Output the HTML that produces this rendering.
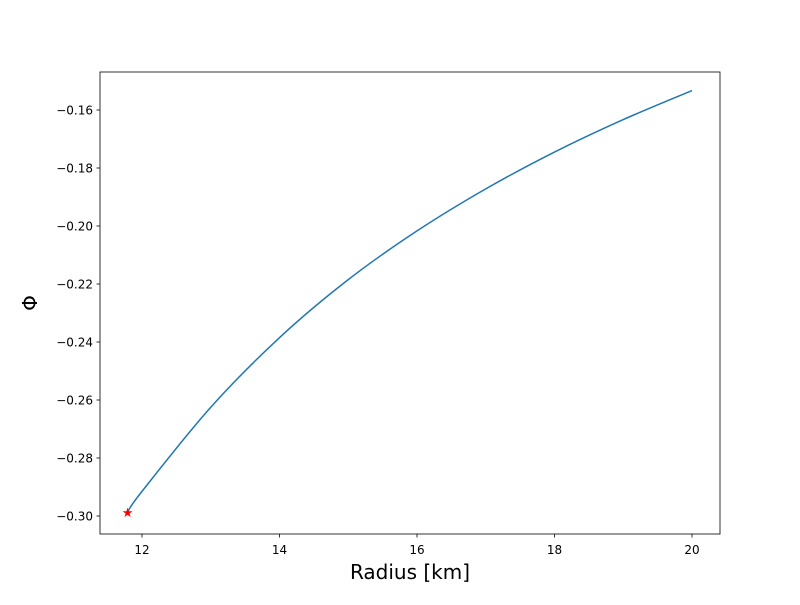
<!DOCTYPE html>
<html><head><meta charset="utf-8"><style>
body{margin:0;background:#fff}
svg text{font-family:"DejaVu Sans","Liberation Sans",sans-serif}
</style></head><body>
<svg id="chart" width="800" height="600" xmlns="http://www.w3.org/2000/svg">
<rect width="800" height="600" fill="#fff"/>
<g id="ticks"></g>
<path id="curve" fill="none" stroke="#1f77b4" stroke-width="1.5"/>
<g id="marker"></g>
<rect x="100" y="72" width="620" height="462" fill="none" stroke="#000" stroke-width="0.8"/>
<text x="410" y="579" font-size="20" text-anchor="middle">Radius [km]</text>
<text x="37" y="303" font-size="20" text-anchor="middle" transform="rotate(-90 37 303)">Φ</text>
</svg>
<script>
const radius=[11.79,12,13,14,15,16,17,18,19,20];
const phi=[-0.2986,-0.2915,-0.2625,-0.2385,-0.2185,-0.2017,-0.1872,-0.1745,-0.1633,-0.1533];
const xTicks=[12,14,16,18,20];
const yTicks=[-0.30,-0.28,-0.26,-0.24,-0.22,-0.20,-0.18,-0.16];
const starR=[11.79], starPhi=[-0.2986];
const X=v=>142+(v-12)*68.75;
const Y=v=>516-(v+0.30)*2900;
const NS='http://www.w3.org/2000/svg';
const tg=document.getElementById('ticks');
function mk(t,a){const e=document.createElementNS(NS,t);for(const k in a)e.setAttribute(k,a[k]);return e;}
xTicks.forEach(t=>{
 const l=mk('line',{x1:X(t),x2:X(t),y1:534,y2:537.5,stroke:'#000','stroke-width':0.8});
 
 
 tg.appendChild(l);
 const s=mk('text',{x:X(t),y:554,'font-size':12,'text-anchor':'middle'});
 
 
 s.textContent=t;tg.appendChild(s);
});
yTicks.forEach(t=>{
 const l=mk('line',{x1:96.5,x2:100,y1:Y(t),y2:Y(t),stroke:'#000','stroke-width':0.8});
 
 
 tg.appendChild(l);
 const s=mk('text',{x:93,y:Y(t)+4.5,'font-size':12,'text-anchor':'end'});
 
 
 s.textContent='\u2212'+Math.abs(t).toFixed(2);tg.appendChild(s);
});
const P=radius.map((r,i)=>[X(r),Y(phi[i])]);
let d='M'+P[0][0]+','+P[0][1];
for(let i=0;i<P.length-1;i++){
 const p0=P[Math.max(i-1,0)],p1=P[i],p2=P[i+1],p3=P[Math.min(i+2,P.length-1)];
 d+=' C'+(p1[0]+(p2[0]-p0[0])/6)+','+(p1[1]+(p2[1]-p0[1])/6)+' '+(p2[0]-(p3[0]-p1[0])/6)+','+(p2[1]-(p3[1]-p1[1])/6)+' '+p2[0]+','+p2[1];
}
document.getElementById('curve').setAttribute('d',d);
const mg=document.getElementById('marker');
starR.forEach((r,i)=>{
 const s=mk('text',{x:X(r),y:Y(starPhi[i])+5,'font-size':13,'text-anchor':'middle',fill:'red'});
 
 
 s.textContent='★';mg.appendChild(s);
});
</script>
</body></html>
